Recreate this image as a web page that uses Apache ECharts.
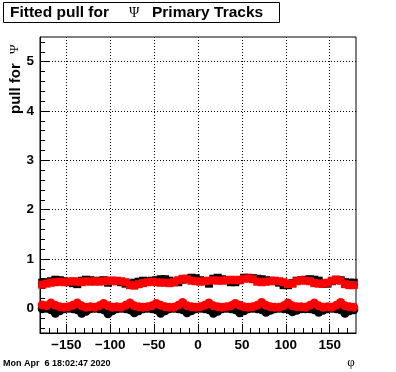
<!DOCTYPE html>
<html>
<head>
<meta charset="utf-8">
<script src="https://cdn.jsdelivr.net/npm/echarts@6/dist/echarts.min.js"></script>
<style>
html,body{margin:0;padding:0;background:#fff;}
#c{width:396px;height:372px;}
</style>
</head>
<body>
<div id="c"></div>
<script>
// phi bin centres (degrees)
const phi = [-177.5,-172.5,-167.5,-162.5,-157.5,-152.5,-147.5,-142.5,-137.5,-132.5,-127.5,-122.5,
  -117.5,-112.5,-107.5,-102.5,-97.5,-92.5,-87.5,-82.5,-77.5,-72.5,-67.5,-62.5,
  -57.5,-52.5,-47.5,-42.5,-37.5,-32.5,-27.5,-22.5,-17.5,-12.5,-7.5,-2.5,
  2.5,7.5,12.5,17.5,22.5,27.5,32.5,37.5,42.5,47.5,52.5,57.5,
  62.5,67.5,72.5,77.5,82.5,87.5,92.5,97.5,102.5,107.5,112.5,117.5,
  122.5,127.5,132.5,137.5,142.5,147.5,152.5,157.5,162.5,167.5,172.5,177.5];

// black, upper band (sigma of pull)
const blackUpper = [0.52,0.53,0.55,0.58,0.57,0.55,0.53,0.51,0.49,0.56,0.58,0.57,
  0.55,0.56,0.57,0.52,0.56,0.55,0.53,0.50,0.50,0.52,0.54,0.56,
  0.55,0.56,0.57,0.59,0.59,0.56,0.53,0.53,0.58,0.60,0.62,0.61,
  0.57,0.55,0.50,0.60,0.62,0.59,0.57,0.53,0.53,0.57,0.62,0.62,
  0.61,0.60,0.59,0.57,0.56,0.55,0.52,0.47,0.47,0.51,0.56,0.57,
  0.58,0.59,0.58,0.56,0.50,0.50,0.55,0.58,0.57,0.53,0.52,0.52];

// black, lower band (mean of pull)
const blackLower = [-0.01,0.00,-0.03,-0.10,-0.05,-0.01,0.00,-0.01,-0.03,-0.10,-0.06,-0.01,
  0.00,-0.01,-0.03,-0.11,-0.05,-0.01,0.00,-0.01,-0.03,-0.09,-0.05,-0.01,
  0.00,-0.01,-0.03,-0.10,-0.05,-0.01,0.00,-0.01,-0.03,-0.09,-0.05,-0.01,
  0.00,-0.01,-0.03,-0.10,-0.06,-0.01,0.00,-0.01,-0.03,-0.09,-0.05,-0.01,
  0.00,-0.01,-0.03,-0.08,-0.04,-0.01,0.00,-0.01,-0.02,-0.07,-0.04,-0.01,
  -0.01,-0.01,-0.03,-0.08,-0.04,-0.01,0.00,-0.01,-0.03,-0.10,-0.05,-0.03];

// red, upper band
const redUpper = [0.48,0.50,0.52,0.53,0.54,0.53,0.54,0.55,0.54,0.53,0.55,0.54,
  0.55,0.54,0.55,0.56,0.55,0.56,0.55,0.53,0.47,0.46,0.49,0.51,
  0.53,0.54,0.53,0.52,0.52,0.51,0.53,0.57,0.60,0.59,0.56,0.55,
  0.54,0.55,0.56,0.57,0.56,0.56,0.57,0.58,0.57,0.58,0.60,0.61,
  0.59,0.54,0.53,0.54,0.55,0.56,0.55,0.53,0.49,0.50,0.55,0.57,
  0.56,0.55,0.51,0.50,0.50,0.52,0.56,0.58,0.56,0.49,0.47,0.47];

// red, lower band
const redLower = [0.07,0.05,0.11,0.06,0.03,0.02,0.03,0.06,0.11,0.05,0.02,0.03,
  0.02,0.05,0.10,0.05,0.02,0.03,0.02,0.06,0.11,0.05,0.03,0.02,
  0.03,0.05,0.10,0.06,0.03,0.02,0.02,0.06,0.12,0.05,0.03,0.02,
  0.03,0.06,0.11,0.05,0.03,0.02,0.03,0.05,0.10,0.06,0.03,0.02,
  0.03,0.06,0.12,0.06,0.03,0.02,0.02,0.05,0.11,0.05,0.03,0.03,
  0.02,0.06,0.11,0.05,0.02,0.03,0.02,0.06,0.12,0.05,0.03,0.02];

const xMajor = [-150,-100,-50,0,50,100,150];
const xMinor = [-170,-160,-140,-130,-120,-110,-90,-80,-70,-60,-40,-30,-20,-10,
  10,20,30,40,60,70,80,90,110,120,130,140,160,170];
const yMajor = [0,1,2,3,4,5];
const yMinor = [-0.4,-0.2,0.2,0.4,0.6,0.8,1.2,1.4,1.6,1.8,2.2,2.4,2.6,2.8,
  3.2,3.4,3.6,3.8,4.2,4.4,4.6,4.8,5.2,5.4];

const titleLeft = 'Fitted pull for';
const titleSym = 'Ψ';
const titleRight = 'Primary Tracks';
const yTitle = 'pull for';
const xTitle = 'φ';
const dateText = 'Mon Apr  6 18:02:47 2020';

const pairs = (ys) => phi.map((x, i) => [x, ys[i]]);
const FONT = '"Liberation Sans", Arial, Helvetica, sans-serif';
const SERIF = '"Liberation Serif", "Times New Roman", serif';
const fmt = (v) => String(v).replace('-', '\u2212');

const chart = echarts.init(document.getElementById('c'), null, {renderer: 'canvas'});

chart.setOption({
  animation: false,
  backgroundColor: '#fff',
  grid: [{left: 40, top: 37, width: 316, height: 296, show: true, borderColor: '#000', borderWidth: 1, backgroundColor: 'transparent'}],
  xAxis: [
    {type: 'value', min: -180, max: 180, position: 'bottom',
     axisLine: {show: true, onZero: false, lineStyle: {color: '#000', width: 1}},
     axisTick: {show: true, inside: true, length: 9, customValues: xMajor, lineStyle: {color: '#000'}},
     axisLabel: {show: true, customValues: xMajor, formatter: fmt, color: '#000', fontFamily: FONT, fontWeight: 'bold', fontSize: 13.5, margin: 5},
     splitLine: {show: true, lineStyle: {color: '#000', type: [1, 2], width: 1}}},
    {type: 'value', min: -180, max: 180, position: 'bottom',
     axisLine: {show: false, onZero: false},
     axisTick: {show: true, inside: true, length: 5, customValues: xMinor, lineStyle: {color: '#000'}},
     axisLabel: {show: false},
     splitLine: {show: false}}
  ],
  yAxis: [
    {type: 'value', min: -0.5, max: 5.5, position: 'left',
     axisLine: {show: true, onZero: false, lineStyle: {color: '#000', width: 1}},
     axisTick: {show: true, inside: true, length: 9, customValues: yMajor, lineStyle: {color: '#000'}},
     axisLabel: {show: true, customValues: yMajor, formatter: fmt, color: '#000', fontFamily: FONT, fontWeight: 'bold', fontSize: 13.5, margin: 6},
     splitLine: {show: true, lineStyle: {color: '#000', type: [1, 2], width: 1}}},
    {type: 'value', min: -0.5, max: 5.5, position: 'left',
     axisLine: {show: false, onZero: false},
     axisTick: {show: true, inside: true, length: 5, customValues: yMinor, lineStyle: {color: '#000'}},
     axisLabel: {show: false},
     splitLine: {show: false}}
  ],
  series: [
    {type: 'scatter', data: pairs(blackUpper), symbol: 'rect', symbolSize: 8, itemStyle: {color: '#000', opacity: 1}, z: 2},
    {type: 'scatter', data: pairs(blackLower), symbol: 'circle', symbolSize: 9, itemStyle: {color: '#000', opacity: 1}, z: 2},
    {type: 'scatter', data: pairs(redUpper), symbol: 'rect', symbolSize: 8, itemStyle: {color: '#ff0000', opacity: 1}, z: 3},
    {type: 'scatter', data: pairs(redLower), symbol: 'circle', symbolSize: 9, itemStyle: {color: '#ff0000', opacity: 1}, z: 3}
  ],
  graphic: [
    {type: 'rect', shape: {x: 3.5, y: 2.5, width: 276, height: 20}, style: {fill: '#fff', stroke: '#000', lineWidth: 1}, z: 10},
    {type: 'text', x: 10, y: 13, style: {text: titleLeft, font: 'bold 15.5px ' + FONT, fill: '#000', verticalAlign: 'middle'}, z: 11},
    {type: 'text', x: 129, y: 13, style: {text: titleSym, font: '14px ' + SERIF, fill: '#000', verticalAlign: 'middle'}, z: 11},
    {type: 'text', x: 152, y: 13, style: {text: titleRight, font: 'bold 15.5px ' + FONT, fill: '#000', verticalAlign: 'middle'}, z: 11},
    {type: 'text', x: 16, y: 114, rotation: Math.PI / 2, style: {text: yTitle, font: 'bold 15px ' + FONT, fill: '#000', align: 'left', verticalAlign: 'middle'}, z: 11},
    {type: 'text', x: 15, y: 54, rotation: Math.PI / 2, style: {text: titleSym, font: '13px ' + SERIF, fill: '#000', align: 'left', verticalAlign: 'middle'}, z: 11},
    {type: 'text', x: 351, y: 363, style: {text: xTitle, font: '13px ' + SERIF, fill: '#000', align: 'center', verticalAlign: 'middle'}, z: 11},
    {type: 'text', x: 3, y: 364, style: {text: dateText, font: 'bold 9px ' + FONT, fill: '#000', align: 'left', verticalAlign: 'middle'}, z: 11}
  ]
});
</script>
</body>
</html>
